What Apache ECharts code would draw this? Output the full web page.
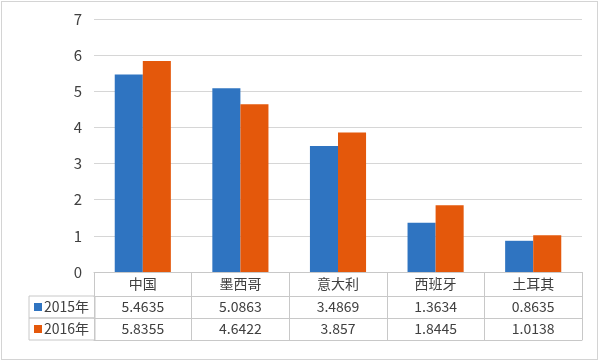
<!DOCTYPE html>
<html>
<head>
<meta charset="utf-8">
<script src="https://cdn.jsdelivr.net/npm/echarts@6/dist/echarts.min.js"></script>
<style>
html,body{margin:0;padding:0;background:#fff;}
#wrap{position:relative;width:600px;height:362px;}
#chart{position:absolute;left:0;top:0;width:600px;height:362px;}
#frame{position:absolute;left:1px;top:1px;width:595px;height:357px;border:1px solid #d4d4d4;pointer-events:none;}
</style>
</head>
<body>
<div id="wrap"><div id="chart"></div><div id="frame"></div></div>
<script>
const categories = ['中国', '墨西哥', '意大利', '西班牙', '土耳其'];
const seriesNames = ['2015年', '2016年'];
const values2015 = [5.4635, 5.0863, 3.4869, 1.3634, 0.8635];
const values2016 = [5.8355, 4.6422, 3.857, 1.8445, 1.0138];
const yMin = 0, yMax = 7, yInterval = 1;

const colors = ['#2F74C1', '#E4580B'];
const font = '"Noto Sans CJK SC", "Noto Sans", sans-serif';
const lineColor = '#c8c8c8';
const textColor = '#404040';

function tableAxis(data, offset, showLabel, tickLen, margin) {
  return {
    type: 'category',
    data: data,
    position: 'bottom',
    offset: offset,
    boundaryGap: true,
    axisLine: { show: true, lineStyle: { color: lineColor, width: 1 } },
    axisTick: { show: tickLen > 0, interval: 0, length: tickLen, alignWithLabel: false, lineStyle: { color: lineColor, width: 1 } },
    axisLabel: { show: showLabel, interval: 0, margin: margin, verticalAlign: 'middle', color: textColor, fontSize: 14, fontFamily: font },
    splitLine: { show: false }
  };
}

const chart = echarts.init(document.getElementById('chart'), null, { renderer: 'canvas' });
chart.setOption({
  animation: false,
  backgroundColor: '#ffffff',
  grid: { left: 94, right: 18, top: 19, bottom: 90, containLabel: false },
  legend: [
    {
      data: [seriesNames[0]], left: 29, top: 296, orient: 'horizontal',
      itemWidth: 8, itemHeight: 8, itemGap: 0, icon: 'rect',
      padding: [3, 3, 3, 5], borderColor: lineColor, borderWidth: 1,
      textStyle: { color: textColor, fontSize: 14, fontFamily: font, padding: [0, 0, 0, -3], width: 48, lineHeight: 16 }
    },
    {
      data: [seriesNames[1]], left: 29, top: 318, orient: 'horizontal',
      itemWidth: 8, itemHeight: 8, itemGap: 0, icon: 'rect',
      padding: [3, 3, 3, 5], borderColor: lineColor, borderWidth: 1,
      textStyle: { color: textColor, fontSize: 14, fontFamily: font, padding: [0, 0, 0, -3], width: 48, lineHeight: 16 }
    }
  ],
  xAxis: [
    tableAxis(categories, 0, true, 24, 12),
    tableAxis(values2015.map(String), 24, true, 22, 11),
    tableAxis(values2016.map(String), 46, true, 22, 11),
    tableAxis(categories, 68, false, 0, 0)
  ],
  yAxis: {
    type: 'value', min: yMin, max: yMax, interval: yInterval,
    axisLine: { show: false }, axisTick: { show: false },
    axisLabel: { color: textColor, fontSize: 15, fontFamily: font, margin: 12 },
    splitLine: { show: true, lineStyle: { color: '#d6d6d6', width: 1 } }
  },
  series: [
    { name: seriesNames[0], type: 'bar', xAxisIndex: 0, data: values2015, itemStyle: { color: colors[0] }, barGap: '0%', barCategoryGap: '42.5%' },
    { name: seriesNames[1], type: 'bar', xAxisIndex: 0, data: values2016, itemStyle: { color: colors[1] }, barGap: '0%', barCategoryGap: '42.5%' }
  ]
});
</script>
</body>
</html>
